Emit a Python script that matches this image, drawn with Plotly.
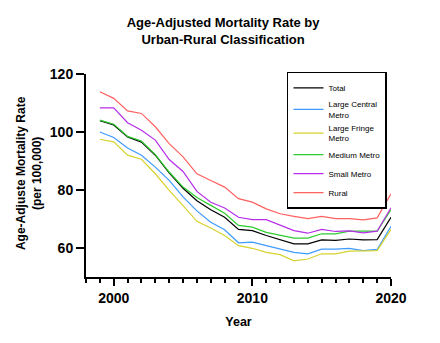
import plotly.graph_objects as go

years = list(range(1999, 2021))

total = [103.9, 102.4, 98.3, 96.5, 92.0, 85.9, 80.6, 76.3, 73.2, 70.6, 66.4, 66.0, 64.3, 62.9, 61.4, 61.4, 62.8, 62.6, 63.1, 62.8, 62.9, 70.6]
large_central = [100.0, 98.1, 94.5, 92.0, 87.9, 83.3, 77.6, 72.8, 68.9, 66.3, 61.8, 62.0, 60.8, 59.7, 58.5, 58.0, 59.6, 59.6, 59.9, 59.1, 59.5, 67.5]
large_fringe = [97.5, 96.6, 92.0, 90.6, 85.6, 79.9, 74.6, 69.2, 66.9, 64.3, 60.8, 59.9, 58.5, 57.7, 55.6, 56.2, 58.0, 58.0, 58.9, 58.9, 59.1, 66.4]
medium = [104.1, 102.7, 98.5, 96.9, 92.2, 86.2, 81.0, 77.4, 74.7, 72.0, 67.8, 67.2, 65.4, 64.3, 63.4, 63.4, 64.9, 64.9, 65.8, 65.8, 65.8, 73.2]
small = [108.3, 108.3, 103.2, 100.6, 97.2, 90.5, 86.4, 79.5, 75.8, 73.8, 70.6, 69.8, 69.8, 67.8, 66.0, 65.1, 66.4, 65.7, 65.9, 65.2, 65.8, 73.9]
rural = [113.9, 111.6, 107.3, 106.4, 101.8, 96.0, 91.4, 85.6, 83.3, 81.0, 77.0, 75.8, 73.5, 71.8, 70.9, 70.1, 70.9, 70.1, 70.1, 69.7, 70.4, 78.7]

series_names = ["Total", "Large Central<br>Metro", "Large Fringe<br>Metro", "Medium Metro", "Small Metro", "Rural"]
series_values = [total, large_central, large_fringe, medium, small, rural]
colors = ["#000000", "#3f9bff", "#d6d22e", "#2ecc2e", "#b72ee8", "#ff6060"]

FONT = "Liberation Sans, Arial, sans-serif"

fig = go.Figure()
for name, vals, c in zip(series_names, series_values, colors):
    fig.add_trace(go.Scatter(x=years, y=vals, mode="lines", name=name,
                             line=dict(color=c, width=1.2)))

fig.update_layout(
    width=440, height=343,
    margin=dict(l=86, r=49, t=74, b=66),
    paper_bgcolor="white", plot_bgcolor="white",
    font=dict(family=FONT, color="black"),
    title=dict(text="Age-Adjusted Mortality Rate by<br>Urban-Rural Classification",
               x=0.507, xanchor="center", y=0.92, yanchor="top",
               font=dict(size=13, weight="bold", family=FONT)),
    showlegend=True,
    legend=dict(x=0.659, y=1.01, xanchor="left", yanchor="top",
                bordercolor="black", borderwidth=1.5, bgcolor="white",
                font=dict(size=8, family=FONT), itemwidth=30,
                tracegroupgap=0),
    annotations=[dict(text="<b>Age-Adjuste Mortality Rate</b><br><b>(per 100,000)</b>",
                      xref="paper", yref="paper", x=-0.185, y=0.51,
                      xanchor="center", yanchor="middle", textangle=-90,
                      showarrow=False, font=dict(size=12, family=FONT, color="black"))],
)

fig.update_xaxes(range=[1998, 2020], tick0=2000, dtick=10,
                 showgrid=False, zeroline=False,
                 showline=True, linecolor="black", linewidth=2,
                 ticks="outside", ticklen=7, tickwidth=2, tickcolor="black",
                 tickfont=dict(size=14, weight="bold", family=FONT),
                 minor=dict(dtick=1, tick0=1999, ticks="outside", ticklen=4, tickwidth=2, tickcolor="black", showgrid=False),
                 title=dict(text="Year", font=dict(size=12.5, weight="bold", family=FONT), standoff=12),
                 automargin=False)

fig.update_yaxes(range=[50, 120], tick0=60, dtick=20,
                 showgrid=False, zeroline=False,
                 showline=True, linecolor="black", linewidth=2,
                 ticks="outside", ticklen=8, tickwidth=2, tickcolor="black",
                 tickfont=dict(size=14, weight="bold", family=FONT),
                 automargin=False)

fig.write_html("out.html")
